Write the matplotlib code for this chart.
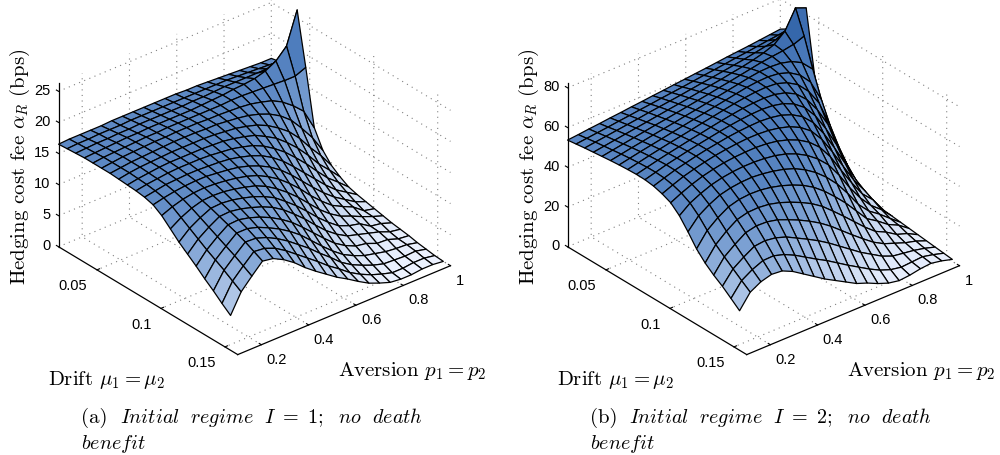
import matplotlib
matplotlib.use("Agg")
import matplotlib.pyplot as plt
from matplotlib.colors import LinearSegmentedColormap
from mpl_toolkits.mplot3d import proj3d
import numpy as np

plt.rcParams["font.family"] = ["Liberation Sans", "DejaVu Sans"]
plt.rcParams["mathtext.fontset"] = "cm"
plt.rcParams["grid.linestyle"] = (0, (1, 4))
plt.rcParams["grid.linewidth"] = 0.8
plt.rcParams["grid.color"] = "#808080"

# Grid: 21 aversion lines, 21 drift lines
aversion = [0.1, 0.145, 0.19, 0.235, 0.28, 0.325, 0.37, 0.415, 0.46, 0.505, 0.55,
            0.595, 0.64, 0.685, 0.73, 0.775, 0.82, 0.865, 0.91, 0.955, 1.0]
drift = [0.02, 0.0267, 0.0334, 0.0402, 0.0469, 0.0536, 0.0603, 0.067, 0.0738, 0.0805, 0.0872,
         0.0939, 0.1006, 0.1074, 0.1141, 0.1208, 0.1275, 0.1342, 0.141, 0.1477, 0.1544]

# Fee (bps), one row per aversion value, one column per drift value
fee_regime1 = [
    [16.5, 16.6, 16.7, 16.8, 16.8, 16.8, 16.8, 16.7, 16.6, 16.5, 16.3, 15.9, 15.0, 13.7, 12.4, 11.3, 10.2, 9.0, 7.9, 6.7, 5.6],
    [16.6, 16.7, 16.8, 16.9, 17.0, 17.0, 17.0, 17.0, 16.9, 16.8, 16.6, 16.3, 15.7, 14.8, 13.9, 13.0, 12.1, 11.3, 10.5, 9.6, 8.7],
    [16.6, 16.7, 16.9, 17.0, 17.1, 17.2, 17.2, 17.2, 17.1, 17.0, 16.9, 16.6, 16.2, 15.6, 14.9, 14.2, 13.5, 12.8, 12.1, 11.3, 10.5],
    [16.6, 16.8, 16.9, 17.1, 17.2, 17.3, 17.3, 17.3, 17.3, 17.2, 17.0, 16.8, 16.5, 16.1, 15.7, 15.2, 14.7, 14.2, 13.6, 12.9, 12.2],
    [16.6, 16.8, 17.0, 17.2, 17.3, 17.4, 17.4, 17.4, 17.4, 17.3, 17.1, 16.9, 16.6, 16.2, 15.8, 15.3, 14.8, 14.2, 13.5, 12.7, 11.9],
    [16.7, 16.8, 17.0, 17.2, 17.4, 17.5, 17.5, 17.5, 17.4, 17.3, 17.1, 16.9, 16.5, 16.1, 15.6, 15.0, 14.4, 13.7, 12.9, 12.0, 11.0],
    [16.7, 16.9, 17.1, 17.3, 17.4, 17.5, 17.6, 17.5, 17.4, 17.3, 17.0, 16.7, 16.3, 15.8, 15.2, 14.5, 13.8, 12.9, 12.0, 10.9, 9.8],
    [16.7, 16.9, 17.1, 17.3, 17.5, 17.6, 17.6, 17.5, 17.4, 17.2, 16.9, 16.5, 16.0, 15.4, 14.7, 13.9, 13.0, 12.0, 10.9, 9.6, 8.3],
    [16.7, 16.9, 17.1, 17.3, 17.5, 17.6, 17.6, 17.5, 17.3, 17.0, 16.7, 16.2, 15.6, 14.9, 14.0, 13.1, 12.0, 10.9, 9.6, 8.3, 7.0],
    [16.7, 16.9, 17.1, 17.3, 17.5, 17.6, 17.5, 17.4, 17.2, 16.8, 16.3, 15.7, 15.0, 14.1, 13.1, 12.0, 10.8, 9.6, 8.3, 7.0, 5.8],
    [16.7, 16.9, 17.1, 17.3, 17.5, 17.5, 17.5, 17.2, 16.9, 16.4, 15.8, 15.0, 14.1, 13.0, 11.8, 10.6, 9.3, 8.0, 6.8, 5.6, 4.6],
    [16.7, 16.9, 17.2, 17.4, 17.5, 17.5, 17.3, 17.0, 16.5, 15.9, 15.1, 14.1, 13.0, 11.7, 10.4, 9.1, 7.7, 6.4, 5.4, 4.4, 3.6],
    [16.6, 16.9, 17.2, 17.5, 17.5, 17.4, 17.1, 16.6, 16.0, 15.1, 14.1, 12.9, 11.6, 10.2, 8.8, 7.4, 6.1, 4.9, 3.9, 3.1, 2.5],
    [16.6, 16.9, 17.3, 17.6, 17.6, 17.3, 16.8, 16.1, 15.1, 14.0, 12.8, 11.4, 10.0, 8.5, 7.1, 5.8, 4.6, 3.6, 2.8, 2.1, 1.5],
    [16.5, 16.9, 17.4, 17.8, 17.6, 17.1, 16.3, 15.3, 14.1, 12.7, 11.2, 9.7, 8.2, 6.8, 5.6, 4.5, 3.5, 2.7, 2.0, 1.3, 0.8],
    [16.4, 16.9, 17.4, 17.9, 17.5, 16.7, 15.6, 14.2, 12.7, 11.1, 9.5, 8.0, 6.6, 5.4, 4.3, 3.5, 2.7, 2.0, 1.3, 0.7, 0.2],
    [16.3, 16.8, 17.4, 18.1, 17.4, 16.2, 14.6, 12.9, 11.1, 9.4, 7.8, 6.4, 5.2, 4.3, 3.6, 3.0, 2.4, 1.6, 0.8, 0.2, 0.0],
    [16.2, 16.7, 17.4, 18.6, 17.3, 15.3, 13.2, 11.1, 9.2, 7.5, 6.1, 5.0, 4.3, 3.6, 3.2, 2.5, 1.7, 1.2, 0.7, 0.2, 0.0],
    [16.1, 16.6, 17.4, 19.5, 17.2, 14.0, 11.2, 8.9, 7.1, 5.7, 4.6, 3.9, 3.5, 2.8, 2.1, 2.0, 1.6, 1.0, 0.6, 0.4, 0.2],
    [16.0, 16.5, 17.6, 21.2, 17.2, 12.4, 9.0, 6.9, 5.4, 4.3, 3.5, 2.8, 2.2, 2.1, 1.8, 1.3, 1.0, 0.9, 0.7, 0.4, 0.2],
    [16.0, 16.3, 17.8, 26.3, 17.9, 9.0, 6.2, 4.6, 3.6, 2.8, 2.4, 2.1, 1.8, 1.5, 1.2, 1.0, 0.8, 0.5, 0.3, 0.1, 0.0],
]
fee_regime2 = [
    [53.7, 54.3, 54.9, 55.4, 55.9, 56.4, 56.8, 57.1, 57.3, 57.2, 56.6, 55.3, 53.4, 49.5, 44.0, 38.0, 33.5, 30.0, 27.0, 23.5, 19.9],
    [54.2, 54.9, 55.6, 56.2, 56.8, 57.4, 57.9, 58.3, 58.6, 58.7, 58.4, 57.5, 56.0, 53.6, 49.8, 45.0, 40.5, 36.9, 33.5, 30.2, 27.0],
    [54.8, 55.5, 56.3, 57.0, 57.7, 58.4, 59.0, 59.5, 59.9, 60.2, 60.1, 59.5, 58.2, 56.2, 53.2, 49.2, 45.0, 41.0, 37.2, 33.5, 30.0],
    [55.3, 56.1, 57.0, 57.8, 58.6, 59.3, 60.0, 60.6, 61.1, 61.4, 61.4, 61.0, 60.0, 58.3, 55.8, 52.4, 48.6, 44.6, 40.4, 35.8, 31.5],
    [55.9, 56.8, 57.7, 58.6, 59.5, 60.3, 61.0, 61.7, 62.2, 62.6, 62.7, 62.3, 61.3, 59.6, 57.1, 53.9, 50.0, 45.8, 41.0, 36.0, 31.0],
    [56.4, 57.4, 58.4, 59.4, 60.4, 61.2, 62.0, 62.7, 63.3, 63.7, 63.8, 63.4, 62.3, 60.4, 57.8, 54.4, 50.2, 45.6, 40.2, 34.4, 28.5],
    [57.0, 58.1, 59.2, 60.2, 61.2, 62.1, 63.0, 63.7, 64.3, 64.7, 64.7, 64.2, 62.9, 60.8, 58.0, 54.2, 49.6, 44.4, 38.4, 31.8, 25.0],
    [57.5, 58.7, 59.9, 61.0, 62.1, 63.1, 64.0, 64.8, 65.4, 65.7, 65.6, 64.8, 63.2, 60.8, 57.5, 53.3, 48.2, 42.2, 35.6, 28.6, 21.5],
    [58.1, 59.4, 60.6, 61.8, 63.0, 64.0, 65.0, 65.8, 66.4, 66.6, 66.2, 65.2, 63.3, 60.4, 56.6, 51.9, 46.2, 39.8, 32.8, 25.4, 18.0],
    [58.6, 60.0, 61.3, 62.6, 63.9, 65.0, 66.0, 66.8, 67.3, 67.3, 66.6, 65.2, 62.9, 59.6, 55.3, 50.0, 43.8, 37.0, 29.8, 22.4, 15.0],
    [59.2, 60.6, 62.1, 63.5, 64.8, 66.0, 67.0, 67.8, 68.1, 67.8, 66.8, 64.8, 62.0, 58.2, 53.4, 47.6, 41.0, 33.8, 26.4, 19.0, 12.0],
    [59.7, 61.3, 62.9, 64.4, 65.8, 67.0, 68.0, 68.6, 68.6, 68.0, 66.4, 63.8, 60.4, 56.0, 50.6, 44.4, 37.4, 30.0, 22.6, 15.6, 9.0],
    [60.3, 62.0, 63.6, 65.2, 66.7, 68.0, 69.0, 69.2, 68.8, 67.6, 65.4, 62.2, 58.1, 53.0, 47.0, 40.2, 32.8, 25.6, 18.8, 12.4, 7.0],
    [60.8, 62.6, 64.4, 66.2, 67.7, 69.0, 69.6, 69.4, 68.4, 66.4, 63.4, 59.6, 54.8, 49.0, 42.4, 35.2, 28.0, 21.2, 15.0, 9.2, 4.5],
    [61.4, 63.3, 65.2, 67.1, 68.7, 69.8, 69.8, 69.0, 67.0, 64.0, 60.2, 55.6, 50.0, 43.8, 36.8, 29.8, 23.0, 17.0, 11.8, 6.4, 2.5],
    [62.0, 64.0, 66.0, 68.2, 69.7, 70.0, 69.2, 67.2, 64.2, 60.0, 55.0, 49.2, 43.0, 36.4, 29.8, 23.6, 18.0, 13.0, 8.6, 4.4, 1.5],
    [62.5, 64.6, 67.0, 69.6, 70.4, 69.6, 67.4, 64.0, 59.2, 53.6, 47.2, 40.6, 34.0, 27.8, 22.0, 17.4, 13.6, 10.0, 6.4, 3.4, 2.0],
    [63.0, 65.3, 68.0, 71.6, 71.0, 68.2, 64.0, 58.4, 51.8, 44.8, 37.8, 31.2, 25.4, 20.4, 16.4, 14.0, 11.0, 8.0, 5.6, 3.8, 3.0],
    [63.6, 66.0, 69.2, 76.0, 72.0, 65.4, 58.2, 50.2, 42.2, 34.6, 27.8, 22.0, 17.6, 14.4, 12.6, 10.0, 7.6, 6.0, 4.8, 4.2, 3.5],
    [64.2, 66.6, 71.0, 85.5, 74.0, 60.0, 47.4, 37.2, 29.0, 22.4, 17.4, 14.6, 12.4, 10.0, 8.2, 7.4, 5.8, 4.6, 3.6, 3.0, 2.5],
    [64.8, 67.5, 73.0, 83.3, 51.5, 32.5, 22.0, 14.5, 10.5, 8.0, 6.5, 5.5, 5.0, 4.5, 4.0, 3.5, 3.0, 2.5, 2.0, 1.5, 1.0],
]

aversion_ticks = [0.2, 0.4, 0.6, 0.8, 1]
aversion_labels = ["0.2", "0.4", "0.6", "0.8", "1"]
drift_ticks = [0.05, 0.1, 0.15]
drift_labels = ["0.05", "0.1", "0.15"]
fee_ticks1 = [0, 5, 10, 15, 20, 25]
fee_ticks2 = [0, 20, 40, 60, 80]

blues = LinearSegmentedColormap.from_list(
    "fee", [(0, "#eef3ff"), (0.25, "#b9cdeb"), (0.5, "#7a9fd2"), (0.65, "#5b87c3"), (0.8, "#4d7cbc"), (1, "#2a5da3")])


def tick_text(ax, x, y, z, label, ha):
    # project to the 2D axes coordinates so the label is a plain Text
    px, py, _ = proj3d.proj_transform(x, y, z, ax.get_proj())
    ax.text2D(px, py, label, transform=ax.transData, ha=ha, va="center", fontsize=10.5)


def draw_panel(left, fee, fee_top, fee_ticks, offset, tag, caption):
    ax = fig.add_axes([left, 0.1377, 0.424, 0.9298], projection="3d", proj_type="ortho")
    ax.view_init(elev=30.1, azim=-129.8)
    ax.set_box_aspect((277, 280, 189))
    ax.patch.set_alpha(0)

    X, Y = np.meshgrid(drift, aversion)
    ax.plot_surface(Y, X, np.array(fee), rstride=1, cstride=1, cmap=blues, vmin=0, vmax=fee_top,
                    edgecolor="black", linewidth=0.9, shade=False, antialiased=True)

    ax.set_xlim(0.1, 1.0)
    ax.set_ylim(0.16, 0.02)
    ax.set_zlim(0, fee_top)
    ax.set_xticks(aversion_ticks)
    ax.set_yticks(drift_ticks)
    ax.set_zticks(fee_ticks)

    for axis in (ax.xaxis, ax.yaxis, ax.zaxis):
        axis.set_pane_color((1, 1, 1, 0))
        axis.pane.set_edgecolor("none")
        axis.line.set_color("black")
        axis.line.set_linewidth(0.9)
        axis._axinfo["tick"]["inward_factor"] = 0
        axis._axinfo["tick"]["outward_factor"] = 0.15
        axis.set_tick_params(label1On=False)
        axis.label.set_visible(False)
        axis.offsetText.set_visible(False)
    ax.zaxis.set_ticks_position("lower")

    for p, label in zip(aversion_ticks, aversion_labels):
        tick_text(ax, p - 0.0455, 0.1723, 0, label, "left")
    for mu, label in zip(drift_ticks, drift_labels):
        tick_text(ax, 0.0121, mu + 0.0088, 0, label, "right")
    for z in fee_ticks:
        tick_text(ax, 0.0862, 0.0163, z, str(z), "right")

    serif = dict(family="cmr10", fontsize=15)
    fig.text((20 + offset) / 1000, 1 - 167 / 456, r"Hedging cost fee $\alpha_R$ (bps)",
             rotation=90, ha="center", va="center", **serif)
    fig.text((48 + offset) / 1000, 1 - 385 / 456, r"Drift $\mu_1 = \mu_2$", **serif)
    fig.text((338 + offset) / 1000, 1 - 376 / 456, r"Aversion $p_1 = p_2$", **serif)
    fig.text((81 + offset) / 1000, 1 - 423 / 456, tag, **serif)
    fig.text((120 + offset) / 1000, 1 - 423 / 456, caption, family="cmr10", fontsize=14.5)
    fig.text((81 + offset) / 1000, 1 - 449 / 456, r"$\mathit{benefit}$", family="cmr10", fontsize=14.5)


fig = plt.figure(figsize=(10, 4.56), dpi=100)
draw_panel(0.0368, fee_regime1, 26.3, fee_ticks1, 0, "(a)",
           r"$\mathit{Initial\ \ regime}\ \ I\ =\ 1;\ \ \mathit{no\ \ death}$")
draw_panel(0.5458, fee_regime2, 82.3, fee_ticks2, 509, "(b)",
           r"$\mathit{Initial\ \ regime}\ \ I\ =\ 2;\ \ \mathit{no\ \ death}$")
fig.savefig("out.png", dpi=100)
